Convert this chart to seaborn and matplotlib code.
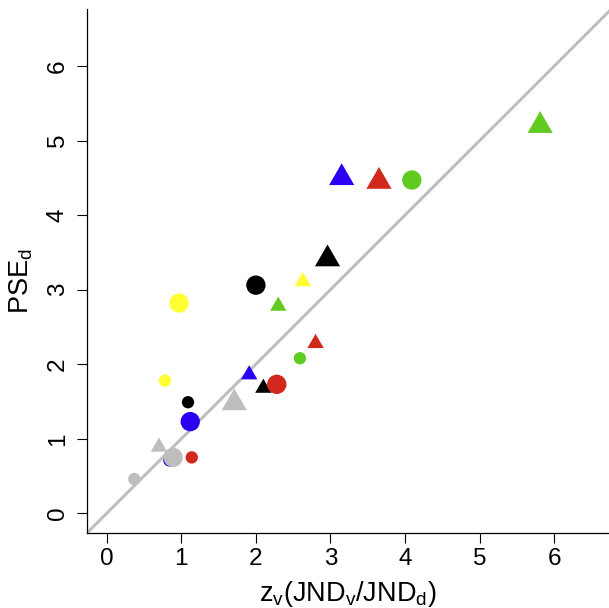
import matplotlib
matplotlib.use("Agg")
import matplotlib.pyplot as plt
import seaborn as sns
import pandas as pd

# ---- data ----
group = ["yellow", "yellow", "yellow",
         "green", "green", "green", "green",
         "black", "black", "black", "black",
         "red", "red", "red", "red",
         "blue", "blue", "blue", "blue",
         "gray", "gray", "gray", "gray"]
shape = ["circle", "circle", "triangle",
         "triangle", "circle", "triangle", "circle",
         "triangle", "triangle", "circle", "circle",
         "triangle", "triangle", "circle", "circle",
         "triangle", "triangle", "circle", "circle",
         "triangle", "triangle", "circle", "circle"]
magnitude = ["small", "large", "small",
             "large", "large", "small", "small",
             "large", "small", "large", "small",
             "large", "small", "large", "small",
             "large", "small", "large", "small",
             "large", "small", "large", "small"]
z_v = [0.78, 0.97, 2.63,
       5.81, 4.09, 2.30, 2.59,
       2.96, 2.10, 2.00, 1.09,
       3.65, 2.80, 2.28, 1.14,
       3.15, 1.91, 1.12, 0.84,
       1.71, 0.70, 0.89, 0.37]
pse_d = [1.78, 2.82, 3.11,
         5.20, 4.47, 2.78, 2.08,
         3.41, 1.68, 3.06, 1.49,
         4.45, 2.28, 1.73, 0.75,
         4.50, 1.86, 1.23, 0.71,
         1.48, 0.89, 0.75, 0.46]
x_ticks = [0, 1, 2, 3, 4, 5, 6]
y_ticks = [0, 1, 2, 3, 4, 5, 6]

df = pd.DataFrame({"group": group, "shape": shape, "magnitude": magnitude,
                   "x": z_v, "y": pse_d})
df["kind"] = df["shape"] + "_" + df["magnitude"]

palette = {"yellow": "#FFFF33", "green": "#62CB22", "black": "#000000",
           "red": "#D2291E", "blue": "#2C00F2", "gray": "#BEBEBE"}
markers = {"circle": "o", "triangle": (3, 0, 0)}
sizes = {"circle_small": 79, "circle_large": 194,
         "triangle_small": 186, "triangle_large": 438}

sns.set_theme(style="ticks")
plt.rcParams["font.family"] = ["Liberation Sans", "DejaVu Sans"]
plt.rcParams["mathtext.fontset"] = "custom"
plt.rcParams["mathtext.rm"] = "Liberation Sans"
plt.rcParams["mathtext.it"] = "Liberation Sans"
plt.rcParams["mathtext.default"] = "regular"
plt.rcParams["text.color"] = "black"
plt.rcParams["xtick.color"] = "black"
plt.rcParams["ytick.color"] = "black"
plt.rcParams["axes.edgecolor"] = "black"

fig = plt.figure(figsize=(6.09, 6.08), dpi=100)
W, H = 609, 608
left, right, top, bottom = 87.3, 611.0, 9.3, 532.7
ax = fig.add_axes([left / W, 1 - bottom / H, (right - left) / W, (bottom - top) / H])

ax.axline((0, 0), slope=1, color="#BEBEBE", lw=2.2, zorder=1)

sns.scatterplot(data=df, x="x", y="y", hue="group", style="shape", size="kind",
                palette=palette, markers=markers, sizes=sizes,
                linewidth=0, alpha=1, legend=False, ax=ax, zorder=2)

ax.set_xlim(-0.26, 6.76)
ax.set_ylim(-0.26, 6.76)
ax.set_xticks(x_ticks)
ax.set_yticks(y_ticks)
ax.set_xticklabels([str(t) for t in x_ticks])
ax.set_yticklabels([str(t) for t in y_ticks], rotation=90, va="center")
ax.tick_params(axis="both", direction="out", length=7.2, width=0.8,
               color="black", labelsize=17.5, labelcolor="black")
ax.tick_params(axis="x", pad=4)
ax.tick_params(axis="y", pad=6)
for s in ["top", "right"]:
    ax.spines[s].set_visible(False)
for s in ["left", "bottom"]:
    ax.spines[s].set_linewidth(0.9)
    ax.spines[s].set_color("black")
ax.set_xlabel("")
ax.set_ylabel("")
ax.grid(False)
ax.set_facecolor("white")

fig.text(348 / W, 1 - 601 / H, r"z$_{\mathrm{v}}$(JND$_{\mathrm{v}}$/JND$_{\mathrm{d}}$)",
         ha="center", va="baseline", fontsize=19.5, color="black")
fig.text(35 / W, 1 - 281 / H, r"PSE$_{\mathrm{d}}$", rotation=90,
         ha="right", va="center", fontsize=19.5, color="black")

fig.savefig("out.png", dpi=100, facecolor="white")
